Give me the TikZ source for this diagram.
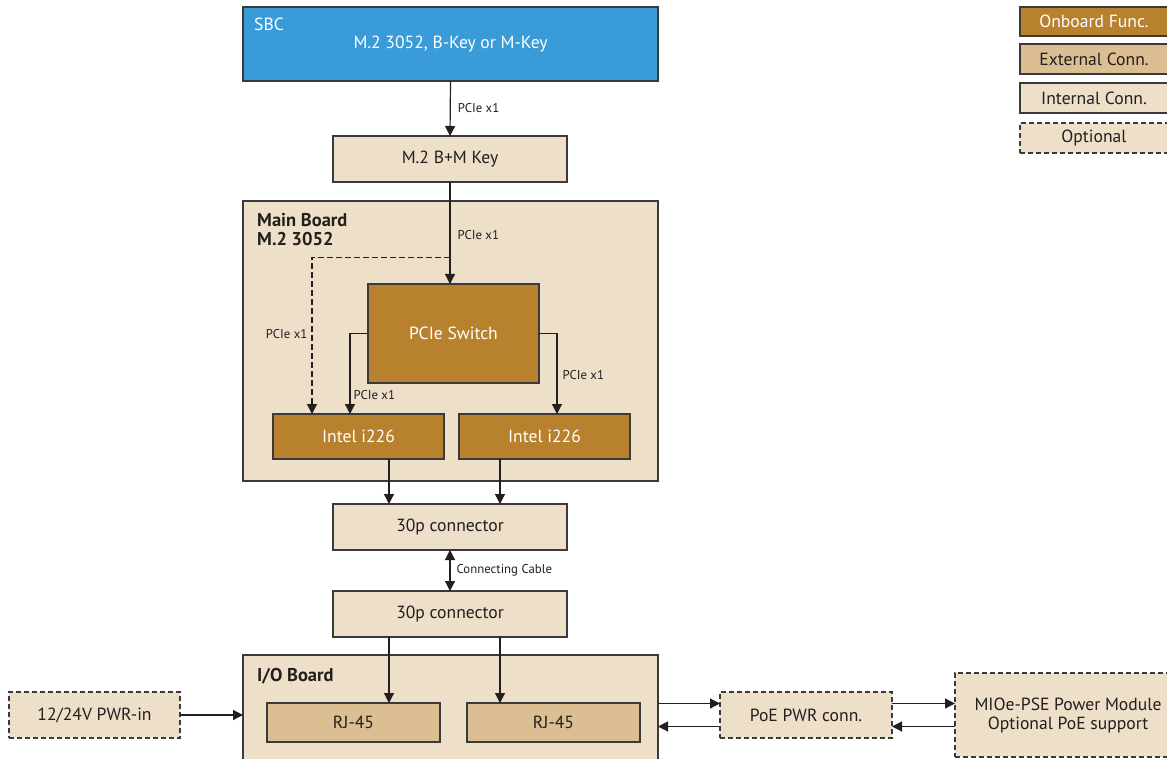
\documentclass[tikz,border=0pt]{standalone}
\usepackage{fontspec}
\setmainfont{PT Sans}
\usetikzlibrary{arrows.meta,calc}
\definecolor{sbcblue}{HTML}{3A9BD9}
\definecolor{onboard}{HTML}{B8812E}
\definecolor{external}{HTML}{DBBF92}
\definecolor{internal}{HTML}{EDDFC8}
\definecolor{edge}{HTML}{3A3A3A}
\definecolor{txt}{HTML}{231F20}
\tikzset{
  blk/.style={draw=edge,line width=1.2pt,inner sep=0pt,outer sep=0pt,font=\fontsize{17.6}{19}\selectfont,text=txt},
  onb/.style={blk,fill=onboard,text=white},
  ext/.style={blk,fill=external},
  intc/.style={blk,fill=internal},
  opt/.style={blk,fill=internal,dashed,dash pattern=on 5pt off 3pt},
  arr/.style={draw=txt,line width=1.2pt,-{Triangle[length=10pt,width=10pt]}},
  darr/.style={draw=txt,line width=1.2pt,{Triangle[length=10pt,width=10pt]}-{Triangle[length=10pt,width=10pt]}},
  lbl/.style={font=\fontsize{12.8}{13}\selectfont,text=txt,inner sep=0pt,anchor=west},
  ttl/.style={font=\bfseries\fontsize{18.5}{19}\selectfont,text=txt,inner sep=0pt,anchor=north west,align=left},
}
\begin{document}
\begin{tikzpicture}[x=1pt,y=-1pt]
\useasboundingbox (0,0) rectangle (1167,759);
\begin{scope}
\clip (0,0) rectangle (1167,759);
% SBC
\node[blk,fill=sbcblue,minimum width=415pt,minimum height=74pt] (sbc) at (450.5,44) {};
\node[font=\fontsize{17.6}{19}\selectfont,text=white,anchor=west,inner sep=0pt] (sbct) at (254,24) {SBC};
\node[font=\fontsize{17.6}{19}\selectfont,text=white,inner sep=0pt] (sbcs) at (450.5,44) {M.2 3052, B-Key or M-Key};
% M.2
\node[intc,minimum width=234pt,minimum height=46pt] (m2) at (450,159) {M.2 B+M Key};
% Main board
\node[intc,minimum width=415pt,minimum height=280pt] (main) at (450.5,341) {};
\node[ttl] (maint) at (257,213) {Main Board\\M.2 3052};
\node[onb,minimum width=171pt,minimum height=99pt] (sw) at (453.5,333.5) {PCIe Switch};
\node[onb,minimum width=171pt,minimum height=45pt] (il) at (358.5,436.5) {Intel i226};
\node[onb,minimum width=171pt,minimum height=45pt] (ir) at (544.5,436.5) {Intel i226};
% connectors
\node[intc,minimum width=234pt,minimum height=46pt] (c1) at (450,527) {30p connector};
\node[intc,minimum width=234pt,minimum height=46pt] (c2) at (450,614) {30p connector};
% I/O board
\node[intc,minimum width=415pt,minimum height=120pt] (io) at (450.5,715) {};
\node[ttl] (iot) at (257,668) {I/O Board};
\node[ext,minimum width=173pt,minimum height=39pt] (rjl) at (353.5,722.5) {RJ-45};
\node[ext,minimum width=173pt,minimum height=39pt] (rjr) at (553.5,722.5) {RJ-45};
% external
\node[opt,minimum width=171pt,minimum height=46pt] (pwr) at (94.5,715) {12/24V PWR-in};
\node[opt,minimum width=172pt,minimum height=46pt] (poe) at (806,715) {PoE PWR conn.};
\node[opt,minimum width=226pt,minimum height=84pt,align=center] (mioe) at (1068,715) {MIOe-PSE Power Module\\Optional PoE support};
% legend
\node[onb,minimum width=148pt,minimum height=29pt] (lg1) at (1094,21.5) {Onboard Func.};
\node[ext,minimum width=148pt,minimum height=30pt] (lg2) at (1094,59) {External Conn.};
\node[intc,minimum width=148pt,minimum height=30pt] (lg3) at (1094,98) {Internal Conn.};
\node[opt,minimum width=148pt,minimum height=30pt] (lg4) at (1094,138) {Optional};
\end{scope}
% connectors
\draw[arr] (sbc.south) -- (m2.north) node[lbl,pos=0.5,xshift=7pt] (l1) {PCIe x1};
\draw[arr] (m2.south) -- (sw.north -| m2.south) node[lbl,pos=0.52,xshift=7pt] (l2) {PCIe x1};
\coordinate (split) at ($(m2.south)!0.74!(sw.north -| m2.south)$);
\draw[arr,dashed,dash pattern=on 6pt off 3pt] (split) -| ([xshift=-46.5pt]il.north) node[lbl,pos=0.745,anchor=east,xshift=-4pt] (l3) {PCIe x1};
\draw[arr] (sw.west) -| ([xshift=-8.5pt]il.north) node[lbl,pos=0.88,xshift=3pt] (l4) {PCIe x1};
\draw[arr] (sw.east) -| ([xshift=12.5pt]ir.north) node[lbl,pos=0.76,xshift=5pt] (l5) {PCIe x1};
\draw[arr] ([xshift=30.5pt]il.south) -- ([xshift=-61pt]c1.north);
\draw[arr] ([xshift=-44.5pt]ir.south) -- ([xshift=50pt]c1.north);
\draw[darr] (c1.south) -- (c2.north) node[lbl,pos=0.5,xshift=6pt] (l6) {Connecting Cable};
\draw[arr] ([xshift=-61pt]c2.south) -- ([xshift=35.5pt]rjl.north);
\draw[arr] ([xshift=50pt]c2.south) -- ([xshift=-53.5pt]rjr.north);
\draw[arr] (pwr.east) -- (pwr.east -| io.west);
\draw[arr] ([yshift=11.5pt]poe.west -| io.east) -- ([yshift=11.5pt]poe.west);
\draw[arr] ([yshift=-11.5pt]poe.west) -- ([yshift=-11.5pt]poe.west -| io.east);
\draw[arr] ([yshift=11.5pt]poe.east) -- ([yshift=11.5pt]mioe.west);
\draw[arr] ([yshift=-11.5pt]mioe.west) -- ([yshift=-11.5pt]poe.east);
\end{tikzpicture}
\end{document}
